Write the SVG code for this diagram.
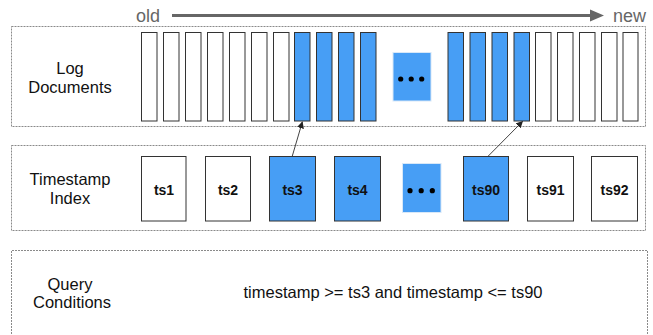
<svg xmlns="http://www.w3.org/2000/svg" width="653" height="335" viewBox="0 0 653 335">
  <style>
    .panel { fill: none; stroke: #8a8a8a; stroke-width: 1; stroke-dasharray: 2 1; }
    .doc { fill: #ffffff; stroke: #333333; stroke-width: 1; }
    .doc.hit { fill: #479ef5; }
    .ts { fill: #ffffff; stroke: #333333; stroke-width: 1; }
    .ts.hit { fill: #479ef5; }
    .more { fill: #479ef5; stroke: #d8e8f8; stroke-width: 1; }
    .label { font-family: "Liberation Sans", Arial, sans-serif; font-size: 16.5px; fill: #111111; text-anchor: middle; }
    .tslabel { font-family: "Liberation Sans", Arial, sans-serif; font-size: 14px; font-weight: bold; fill: #111111; text-anchor: middle; }
    .time { font-family: "Liberation Sans", Arial, sans-serif; font-size: 18px; fill: #666666; }
    .link { stroke: #444444; stroke-width: 1; fill: none; marker-end: url(#tip); }
  </style>
  <defs>
    <marker id="tip" viewBox="0 0 10 10" refX="9" refY="5" markerWidth="7" markerHeight="7" orient="auto" markerUnits="userSpaceOnUse">
      <path d="M0,0 L10,5 L0,10 z" fill="#222222"/>
    </marker>
  </defs>

  <!-- time axis -->
  <g id="time-axis">
    <text class="time" x="136" y="22">old</text>
    <line x1="172" y1="15.5" x2="592" y2="15.5" stroke="#666666" stroke-width="3"/>
    <polygon points="590,9.5 604,15.5 590,21.5" fill="#666666"/>
    <text class="time" x="613" y="22">new</text>
  </g>

  <!-- log documents row -->
  <g id="log-documents">
    <rect class="panel" x="11.5" y="26.5" width="634" height="100"/>
    <text class="label" x="70" y="74">Log</text>
    <text class="label" x="70" y="92.5">Documents</text>
    <rect class="doc" x="141.5" y="32.5" width="15.5" height="88.5"/>
    <rect class="doc" x="163.5" y="32.5" width="15.5" height="88.5"/>
    <rect class="doc" x="185.5" y="32.5" width="15.5" height="88.5"/>
    <rect class="doc" x="207.5" y="32.5" width="15.5" height="88.5"/>
    <rect class="doc" x="229.5" y="32.5" width="15.5" height="88.5"/>
    <rect class="doc" x="251.5" y="32.5" width="15.5" height="88.5"/>
    <rect class="doc" x="273.5" y="32.5" width="15.5" height="88.5"/>
    <rect class="doc hit" x="294.5" y="32.5" width="15.5" height="88.5"/>
    <rect class="doc hit" x="316.5" y="32.5" width="15.5" height="88.5"/>
    <rect class="doc hit" x="338.5" y="32.5" width="15.5" height="88.5"/>
    <rect class="doc hit" x="360.5" y="32.5" width="15.5" height="88.5"/>
    <rect class="more" x="393" y="52.5" width="38" height="48.5"/>
    <circle cx="400.7" cy="79" r="2.6" fill="#000"/>
    <circle cx="411.2" cy="79" r="2.6" fill="#000"/>
    <circle cx="421.7" cy="79" r="2.6" fill="#000"/>
    <rect class="doc hit" x="448" y="32.5" width="15.5" height="88.5"/>
    <rect class="doc hit" x="470" y="32.5" width="15.5" height="88.5"/>
    <rect class="doc hit" x="492" y="32.5" width="15.5" height="88.5"/>
    <rect class="doc hit" x="514" y="32.5" width="15.5" height="88.5"/>
    <rect class="doc" x="535.5" y="32.5" width="15.5" height="88.5"/>
    <rect class="doc" x="557.5" y="32.5" width="15.5" height="88.5"/>
    <rect class="doc" x="579.5" y="32.5" width="15.5" height="88.5"/>
    <rect class="doc" x="601.5" y="32.5" width="15.5" height="88.5"/>
    <rect class="doc" x="623" y="32.5" width="15" height="88.5"/>
  </g>

  <!-- timestamp index row -->
  <g id="timestamp-index">
    <rect class="panel" x="11.5" y="145.5" width="634" height="85"/>
    <text class="label" x="70" y="185">Timestamp</text>
    <text class="label" x="70" y="204">Index</text>
  </g>
  <g id="ts1"><rect class="ts" x="141.5" y="156.5" width="44.5" height="64.5"/><text class="tslabel" x="164" y="195">ts1</text></g>
  <g id="ts2"><rect class="ts" x="205.5" y="156.5" width="45" height="64.5"/><text class="tslabel" x="228" y="195">ts2</text></g>
  <g id="ts3"><rect class="ts hit" x="269.5" y="156.5" width="46" height="64.5"/><text class="tslabel" x="292.5" y="195">ts3</text></g>
  <g id="ts4"><rect class="ts hit" x="334.5" y="156.5" width="46" height="64.5"/><text class="tslabel" x="357.5" y="195">ts4</text></g>
  <g id="ts-more">
    <rect class="more" x="402.5" y="163.5" width="38.5" height="49"/>
    <circle cx="410" cy="190.7" r="2.6" fill="#000"/>
    <circle cx="421.2" cy="190.7" r="2.6" fill="#000"/>
    <circle cx="432.3" cy="190.7" r="2.6" fill="#000"/>
  </g>
  <g id="ts90"><rect class="ts hit" x="463.5" y="156.5" width="45" height="64.5"/><text class="tslabel" x="486" y="195">ts90</text></g>
  <g id="ts91"><rect class="ts" x="527.5" y="156.5" width="46" height="64.5"/><text class="tslabel" x="550.5" y="195">ts91</text></g>
  <g id="ts92"><rect class="ts" x="591.5" y="156.5" width="46" height="64.5"/><text class="tslabel" x="614.5" y="195">ts92</text></g>

  <!-- query conditions row -->
  <g id="query-conditions">
    <path class="panel" d="M11.5,340 V250.5 H647.5 V340"/>
    <text class="label" x="70" y="290">Query</text>
    <text class="label" x="72" y="308">Conditions</text>
    <text class="label" x="393" y="297.5">timestamp &gt;= ts3 and timestamp &lt;= ts90</text>
  </g>

  <!-- index entries pointing at documents -->
  <g id="connectors">
    <line class="link" x1="292.3" y1="156" x2="302.3" y2="122"/>
    <line class="link" x1="488.3" y1="156" x2="522.5" y2="121.5"/>
  </g>
</svg>
